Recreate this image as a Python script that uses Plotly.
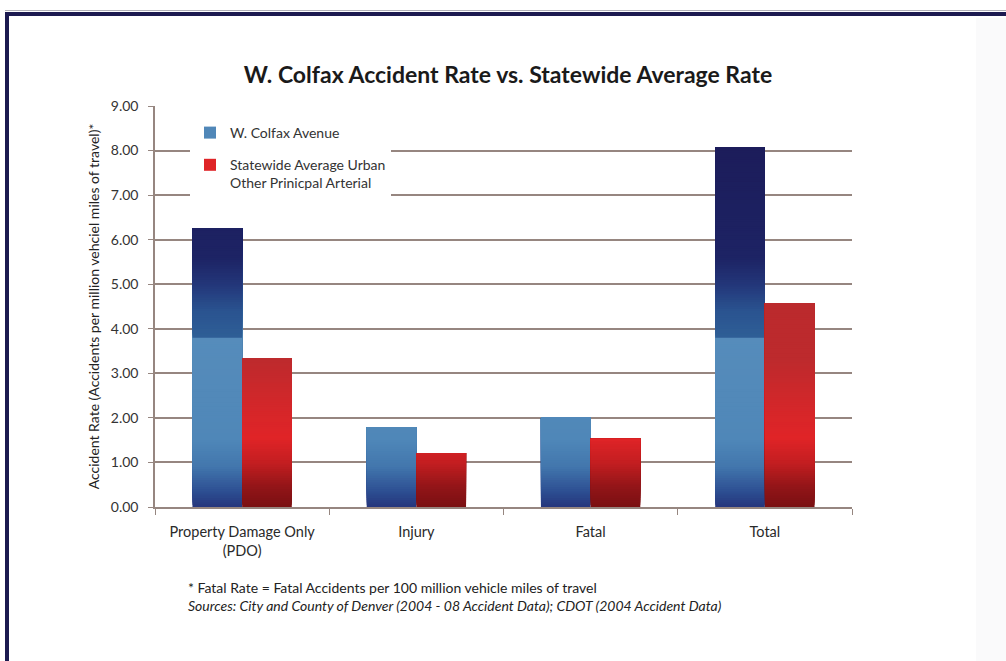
import plotly.graph_objects as go
import numpy as np

# ---------------- data ----------------
categories = ["Property Damage Only<br>(PDO)", "Injury", "Fatal", "Total"]
colfax_rate = [6.26, 1.79, 2.01, 8.07]
statewide_rate = [3.34, 1.21, 1.53, 4.58]
series_names = ["W. Colfax Avenue", "Statewide Average Urban<br>Other Prinicpal Arterial"]
y_tick_values = [0, 1, 2, 3, 4, 5, 6, 7, 8, 9]
title_text = "W. Colfax Accident Rate vs. Statewide Average Rate"
y_title = "Accident Rate (Accidents per million vehciel miles of travel)*"
note_1 = "* Fatal Rate = Fatal Accidents per 100 million vehicle miles of travel"
note_2 = "<i>Sources: City and County of Denver (2004 - 08 Accident Data); CDOT (2004 Accident Data)</i>"

# ---------------- style ----------------
W, H = 1006, 661
PL, PR, PT, PB = 155, 852, 106, 507  # plot area in pixels
GRID = "#968680"
FONT = "Lato"

blue_stops = [(0.0, "#25357c"), (0.35, "#2d4f92"), (0.9, "#4276ad"), (1.5, "#4f87b8"),
              (3.79, "#568cbb"), (3.80, "#2f5f96"), (4.4, "#2a5390"), (5.0, "#233679"),
              (5.6, "#1d2364"), (9.0, "#1b1a57")]
red_stops = [(0.0, "#7a1012"), (0.45, "#921518"), (1.0, "#c41e21"), (1.55, "#e02427"),
             (2.3, "#d3272a"), (3.3, "#bd2a2d"), (9.0, "#b42b2d")]


def hex2rgb(h):
    h = h.lstrip("#")
    return np.array([int(h[i:i + 2], 16) for i in (0, 2, 4)], dtype=float)


def grad_color(stops, v):
    xs = [s[0] for s in stops]
    cs = [hex2rgb(s[1]) for s in stops]
    rgb = [np.interp(v, xs, [c[i] for c in cs]) for i in range(3)]
    return "rgb(%d,%d,%d)" % tuple(int(round(c)) for c in rgb)


def px_x(px):
    return (px - PL) / (PR - PL)


def px_y(py):
    return (PB - py) / (PB - PT)


fig = go.Figure()

# Each bar is painted as a stack of overlapping layers (base -> bar top),
# later layers covering the upper part, which renders a vertical gradient.
step = 0.05
levels = np.round(np.arange(0, 9, step), 4)
series = [
    (series_names[0], colfax_rate, blue_stops, "colfax", 34),
    (series_names[1], statewide_rate, red_stops, "state", 30),
]
for name, vals, stops, gid, legend_level in series:
    for k, s in enumerate(levels):
        h = [round(v - s, 4) if v > s + 1e-9 else None for v in vals]
        if all(x is None for x in h):
            continue
        col = grad_color(stops, s + step / 2)
        fig.add_trace(go.Bar(
            x=categories, y=h, base=float(s),
            offsetgroup=gid, legendgroup=gid, name=name,
            showlegend=(k == legend_level),
            marker=dict(color=col, line=dict(width=0)),
            hoverinfo="skip",
        ))

fig.update_layout(
    width=W, height=H,
    margin=dict(l=PL, r=W - PR, t=PT, b=H - PB),
    paper_bgcolor="white", plot_bgcolor="white",
    barmode="group", bargap=0.43, bargroupgap=0,
    font=dict(family=FONT, size=13, color="#333333"),
    title=dict(text="<b>" + title_text + "</b>", x=0.505, xanchor="center",
               y=1 - 75 / H, yanchor="middle",
               font=dict(family=FONT, size=23, color="#1a1a1a")),
    legend=dict(x=px_x(190), y=px_y(117), xanchor="left", yanchor="top",
                bgcolor="white", traceorder="grouped", tracegroupgap=11,
                valign="top", font=dict(family=FONT, size=14, color="#333333")),
    showlegend=True,
)

fig.update_xaxes(
    type="category", showgrid=False, showline=True, linecolor=GRID, linewidth=1.5,
    ticks="outside", tickson="boundaries", ticklen=6, tickcolor=GRID, tickwidth=1.2,
    ticklabelstandoff=11,
    tickfont=dict(family=FONT, size=14.5, color="#2a2a2a"),
)
fig.update_yaxes(
    range=[0, 9], tickvals=y_tick_values, tickformat=".2f",
    showgrid=True, gridcolor=GRID, gridwidth=1.5, zeroline=False,
    showline=True, linecolor=GRID, linewidth=1.5,
    ticks="outside", ticklen=5, tickcolor=GRID, ticklabelstandoff=7,
    tickfont=dict(family=FONT, size=14, color="#333333"),
    title=dict(text=y_title, standoff=8, font=dict(family=FONT, size=14, color="#222222")),
)

# footnotes
fig.add_annotation(text=note_1, xref="paper", yref="paper", x=px_x(186), y=px_y(587),
                   xanchor="left", yanchor="middle", showarrow=False,
                   font=dict(family=FONT, size=14, color="#222222"))
fig.add_annotation(text=note_2, xref="paper", yref="paper", x=px_x(186), y=px_y(605),
                   xanchor="left", yanchor="middle", showarrow=False,
                   font=dict(family=FONT, size=14, color="#222222"))

# page frame
NAVY = "#1c1a50"
fig.add_shape(type="rect", xref="paper", yref="paper", x0=px_x(976), x1=px_x(1010),
              y0=px_y(18), y1=px_y(665), line=dict(width=0), fillcolor="#fafafb", layer="below")
fig.add_shape(type="line", xref="paper", yref="paper", x0=px_x(5), x1=px_x(1010),
              y0=px_y(14), y1=px_y(14), line=dict(color=NAVY, width=4))
fig.add_shape(type="line", xref="paper", yref="paper", x0=px_x(7), x1=px_x(7),
              y0=px_y(12), y1=px_y(665), line=dict(color=NAVY, width=4))
fig.add_shape(type="line", xref="paper", yref="paper", x0=px_x(5), x1=px_x(1010),
              y0=px_y(10.5), y1=px_y(10.5), line=dict(color="#b0b0b8", width=1))

fig.write_html("out.html", config={"displayModeBar": False},
               post_script="document.body.style.margin='0';document.body.style.overflow='hidden';")
